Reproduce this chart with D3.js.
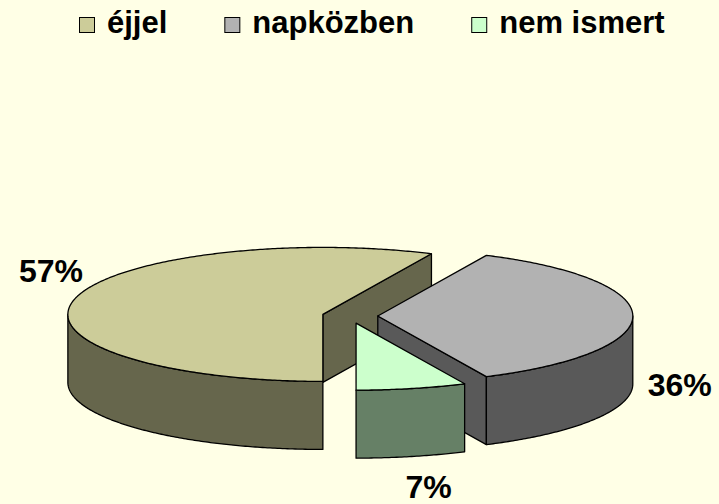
<!DOCTYPE html>
<html>
<head>
<meta charset="utf-8">
<script src="https://cdnjs.cloudflare.com/ajax/libs/d3/7.8.5/d3.min.js"></script>
<style>
  body { margin: 0; background: #FFFFE6; }
  svg { display: block; font-family: "Liberation Sans", Arial, sans-serif; font-weight: bold; }
</style>
</head>
<body>
<div class="container"></div>
<script>
const WIDTH = 719
	, HEIGHT = 504
	, CX = 350
	, CY = 316
	, RX = 255
	, RY = 67
	, DEPTH = 68
	, EXPLODE = 0.109;

// data
var categories = ["éjjel", "napközben", "nem ismert"];
var values = [57, 36, 7];
var labels = ["57%", "36%", "7%"];

var topColor = d3.scaleOrdinal().domain(categories).range(["#CCCC99", "#B2B2B2", "#CCFFCC"]);
var sideColor = d3.scaleOrdinal().domain(categories).range(["#66664C", "#595959", "#668066"]);

// label nudges from the rim point at mid angle (Excel places them by hand-ish rules)
var labelNudge = [[-23, -18], [47, 80], [17, 109]];

var proj = function (angle, r) {
	return [RX * r * Math.sin(angle), -RY * r * Math.cos(angle)];
};

var arcPoints = function (ox, oy, a0, a1, dy) {
	var n = Math.max(2, Math.ceil(Math.abs(a1 - a0) / 0.01));
	var pts = [];
	for (var i = 0; i <= n; i++) {
		var a = a0 + (a1 - a0) * i / n;
		var p = proj(a, 1);
		pts.push([ox + p[0], oy + p[1] + dy]);
	}
	return pts;
};

var svg = d3.select('.container').append('svg')
	.attr('width', WIDTH)
	.attr('height', HEIGHT);

var pie = d3.pie().sort(null).value(function (d) { return d; })
	.startAngle(Math.PI).endAngle(3 * Math.PI);

var slices = pie(values).map(function (d, i) {
	var mid = (d.startAngle + d.endAngle) / 2;
	var off = proj(mid, EXPLODE);
	return { a0: d.startAngle, a1: d.endAngle, mid: mid, ox: CX + off[0], oy: CY + off[1], cat: categories[i], label: labels[i], i: i };
});

// back to front
var order = slices.slice().sort(function (a, b) { return Math.cos(b.mid) - Math.cos(a.mid); });

var line = d3.line();
var g = svg.append('g').attr('class', 'pie');

order.forEach(function (s) {
	var sg = g.append('g');
	var faces = [];
	if (Math.sin(s.a0) < -1e-6) faces.push(s.a0);
	if (Math.sin(s.a1) > 1e-6) faces.push(s.a1);
	faces.forEach(function (a) {
		var p = proj(a, 1);
		var pts = [[s.ox, s.oy], [s.ox + p[0], s.oy + p[1]], [s.ox + p[0], s.oy + p[1] + DEPTH], [s.ox, s.oy + DEPTH]];
		sg.append('path')
			.attr('d', line(pts) + 'Z')
			.attr('fill', sideColor(s.cat))
			.attr('stroke', '#000')
			.attr('stroke-width', 1.3)
			.attr('stroke-linejoin', 'round');
	});
	// outer wall on the front half
	[[Math.PI / 2, 3 * Math.PI / 2], [5 * Math.PI / 2, 7 * Math.PI / 2]].forEach(function (f) {
		var t0 = Math.max(f[0], s.a0), t1 = Math.min(f[1], s.a1);
		if (t1 - t0 < 1e-6) return;
		var topArc = arcPoints(s.ox, s.oy, t0, t1, 0);
		var botArc = arcPoints(s.ox, s.oy, t1, t0, DEPTH);
		sg.append('path')
			.attr('d', line(topArc.concat(botArc)) + 'Z')
			.attr('fill', sideColor(s.cat))
			.attr('stroke', '#000')
			.attr('stroke-width', 1.3)
			.attr('stroke-linejoin', 'round');
	});
	var topPts = [[s.ox, s.oy]].concat(arcPoints(s.ox, s.oy, s.a0, s.a1, 0));
	sg.append('path')
		.attr('d', line(topPts) + 'Z')
		.attr('fill', topColor(s.cat))
		.attr('stroke', '#000')
		.attr('stroke-width', 1.3)
		.attr('stroke-linejoin', 'round');
});

// data labels
slices.forEach(function (s) {
	var p = proj(s.mid, 1);
	svg.append('text')
		.attr('x', s.ox + p[0] + labelNudge[s.i][0])
		.attr('y', s.oy + p[1] + labelNudge[s.i][1])
		.attr('text-anchor', 'middle')
		.attr('font-size', 32)
		.attr('fill', '#000')
		.text(s.label);
});

// legend
var legend = svg.append('g').attr('class', 'legend');
var lx = 79;
categories.forEach(function (c) {
	legend.append('rect')
		.attr('x', lx + 0.5).attr('y', 17.5)
		.attr('width', 15).attr('height', 15)
		.attr('fill', topColor(c))
		.attr('stroke', '#000')
		.attr('stroke-width', 1);
	var t = legend.append('text')
		.attr('x', lx + 28)
		.attr('y', 33)
		.attr('font-size', 31)
		.attr('fill', '#000')
		.text(c);
	lx += 28 + t.node().getComputedTextLength() + 57;
});
</script>
</body>
</html>
